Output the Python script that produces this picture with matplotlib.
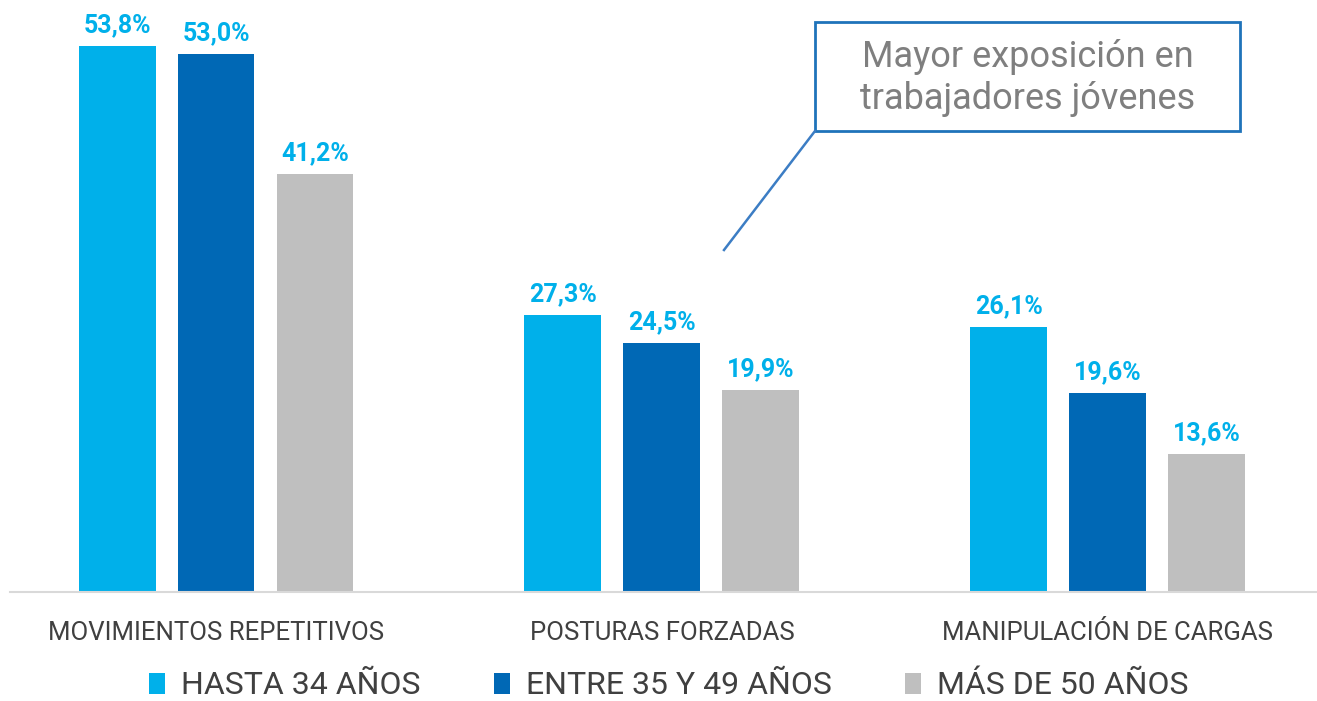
import matplotlib
matplotlib.use("Agg")
import matplotlib.pyplot as plt
import matplotlib.patches as mpatches
import numpy as np

plt.rcParams['font.family'] = ['Roboto', 'DejaVu Sans']

categories = ["MOVIMIENTOS REPETITIVOS", "POSTURAS FORZADAS", "MANIPULACIÓN DE CARGAS"]
series_names = ["HASTA 34 AÑOS", "ENTRE 35 Y 49 AÑOS", "MÁS DE 50 AÑOS"]
hasta_34 = [53.8, 27.3, 26.1]
entre_35_49 = [53.0, 24.5, 19.6]
mas_50 = [41.2, 19.9, 13.6]
series = [hasta_34, entre_35_49, mas_50]
colors = ["#00B0EA", "#0068B5", "#BFBFBF"]
label_color = "#00B0EA"
callout_text = "Mayor exposición en\ntrabajadores jóvenes"

W, H = 1317, 701
fig = plt.figure(figsize=(W / 100, H / 100), dpi=100)
ax = fig.add_axes([10 / W, 1 - 592 / H, 1 - 10 / W, (592 - 3) / H])

x = np.arange(len(categories))
width = 0.1726
offset = 0.222
handles = []
for i, (vals, c, name) in enumerate(zip(series, colors, series_names)):
    bars = ax.bar(x + (i - 1) * offset, vals, width, color=c, label=name)
    handles.append(bars)
    for b, v in zip(bars, vals):
        ax.text(b.get_x() + b.get_width() / 2, v + 0.85, f"{v:.1f}%".replace(".", ","),
                ha="center", va="bottom", color=label_color, fontsize=18, fontweight="bold")

ax.set_xlim(-0.462, 2.469)
ax.set_ylim(0, 58)
ax.set_yticks([])
ax.set_xticks(x)
ax.set_xticklabels(categories, fontsize=18.5, color="#404040")
ax.tick_params(axis="x", length=0, pad=21)
for s in ["top", "right", "left"]:
    ax.spines[s].set_visible(False)
ax.spines["bottom"].set_color("#D9D9D9")
ax.spines["bottom"].set_linewidth(1.5)

leg = fig.legend(handles=handles, labels=series_names, loc="center", ncol=3,
                 bbox_to_anchor=(669 / W, 1 - 686 / H), frameon=False, fontsize=23,
                 handlelength=0.5, handleheight=0.65, handletextpad=0.5, columnspacing=2.3,
                 labelcolor="#404040", borderaxespad=0, borderpad=0)

# Callout box
bx0, by0, bx1, by1 = 815, 22, 1240, 131
rect = mpatches.Rectangle((bx0 / W, 1 - by1 / H), (bx1 - bx0) / W, (by1 - by0) / H,
                          transform=fig.transFigure, fill=False, edgecolor="#1F73BA", linewidth=2)
fig.patches.append(rect)
fig.add_artist(plt.Line2D([bx0 / W, 724 / W], [1 - by1 / H, 1 - 250 / H],
                          transform=fig.transFigure, color="#3C7DC4", linewidth=1.8))
fig.text((bx0 + bx1) / 2 / W, 1 - 78 / H, callout_text, ha="center", va="center",
         fontsize=26, color="#7F7F7F", linespacing=1.2)

fig.savefig("out.png", dpi=100)
